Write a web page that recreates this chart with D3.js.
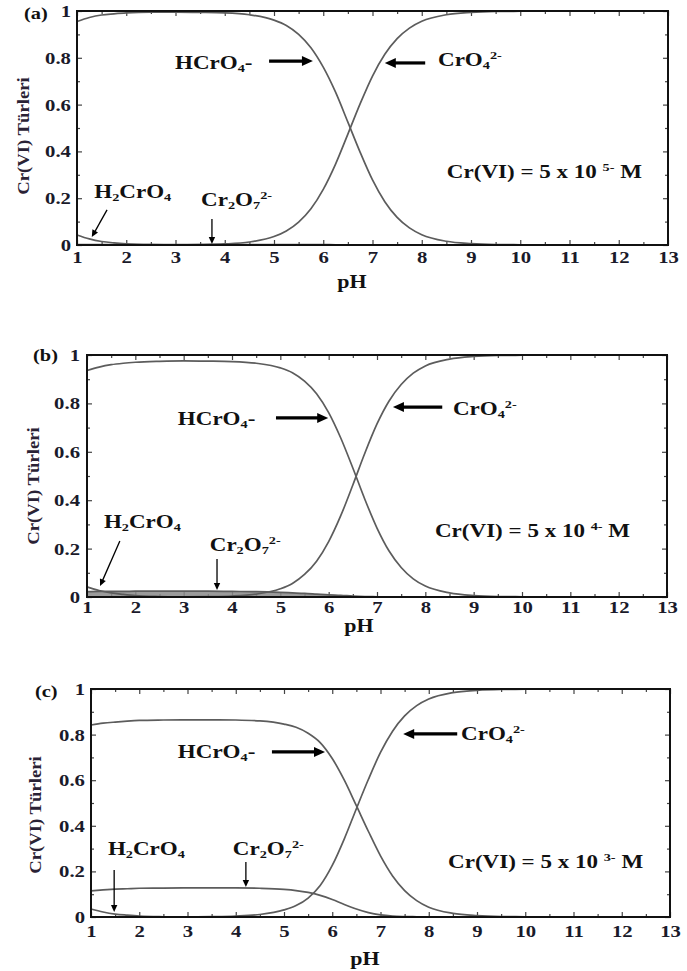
<!DOCTYPE html>
<html><head><meta charset="utf-8">
<script src="https://cdn.jsdelivr.net/npm/d3@7"></script>
<style>body{margin:0;background:#fff}svg text{white-space:pre}</style>
</head><body>
<svg id="c" width="687" height="971"></svg>
<script>
// ---------- DATA ----------
const pH = [1, 1.25, 1.5, 1.75, 2, 2.5, 3, 3.5, 4, 4.5,
            5, 5.25, 5.5, 5.75, 6, 6.25, 6.5, 6.75, 7, 7.25,
            7.5, 7.75, 8, 8.5, 9, 9.5, 10, 11, 12, 13];

// (a) Cr(VI) = 5 x 10^-5 M
const HCrO4_a  = [0.955, 0.972, 0.983, 0.988, 0.992, 0.995, 0.995, 0.994, 0.992, 0.984,
                  0.961, 0.938, 0.900, 0.843, 0.760, 0.653, 0.525, 0.396, 0.278, 0.185,
                  0.118, 0.073, 0.044, 0.016, 0.006, 0.002, 0.001, 0, 0, 0];
const CrO4_a   = [0, 0, 0, 0, 0, 0, 0.0005, 0.0015, 0.0045, 0.0128,
                  0.036, 0.060, 0.098, 0.155, 0.238, 0.346, 0.474, 0.604, 0.722, 0.815,
                  0.882, 0.927, 0.956, 0.984, 0.994, 0.998, 0.999, 1, 1, 1];
const H2CrO4_a = [0.043, 0.026, 0.015, 0.009, 0.005, 0.0015, 0.0005, 0, 0, 0,
                  0, 0, 0, 0, 0, 0, 0, 0, 0, 0,
                  0, 0, 0, 0, 0, 0, 0, 0, 0, 0];
const Cr2O7_a  = [0.002, 0.002, 0.002, 0.002, 0.002, 0.002, 0.002, 0.002, 0.002, 0.002,
                  0.002, 0.002, 0.002, 0.002, 0.002, 0.001, 0.001, 0.0005, 0, 0,
                  0, 0, 0, 0, 0, 0, 0, 0, 0, 0];

// (b) Cr(VI) = 5 x 10^-4 M
const HCrO4_b  = [0.936, 0.950, 0.960, 0.966, 0.970, 0.974, 0.976, 0.975, 0.973, 0.966,
                  0.947, 0.927, 0.892, 0.840, 0.762, 0.657, 0.533, 0.403, 0.285, 0.190,
                  0.122, 0.075, 0.045, 0.017, 0.006, 0.002, 0.001, 0, 0, 0];
const CrO4_b   = [0, 0, 0, 0, 0, 0, 0.0005, 0.0015, 0.004, 0.012,
                  0.034, 0.056, 0.093, 0.148, 0.229, 0.336, 0.463, 0.595, 0.715, 0.810,
                  0.878, 0.925, 0.955, 0.983, 0.994, 0.998, 0.999, 1, 1, 1];
const H2CrO4_b = [0.042, 0.027, 0.017, 0.011, 0.006, 0.002, 0.0005, 0, 0, 0,
                  0, 0, 0, 0, 0, 0, 0, 0, 0, 0,
                  0, 0, 0, 0, 0, 0, 0, 0, 0, 0];
const Cr2O7_b  = [0.022, 0.023, 0.023, 0.023, 0.024, 0.024, 0.024, 0.024, 0.023, 0.022,
                  0.019, 0.017, 0.015, 0.012, 0.009, 0.007, 0.004, 0.002, 0.001, 0,
                  0, 0, 0, 0, 0, 0, 0, 0, 0, 0];

// (c) Cr(VI) = 5 x 10^-3 M
const HCrO4_c  = [0.842, 0.850, 0.855, 0.859, 0.862, 0.864, 0.865, 0.865, 0.864, 0.860,
                  0.846, 0.832, 0.806, 0.765, 0.695, 0.600, 0.488, 0.375, 0.268, 0.180,
                  0.116, 0.072, 0.043, 0.016, 0.006, 0.002, 0.001, 0, 0, 0];
const CrO4_c   = [0, 0, 0, 0, 0, 0, 0.0005, 0.0015, 0.004, 0.011,
                  0.031, 0.050, 0.083, 0.138, 0.226, 0.343, 0.475, 0.604, 0.722, 0.815,
                  0.882, 0.927, 0.956, 0.984, 0.994, 0.998, 0.999, 1, 1, 1];
const H2CrO4_c = [0.035, 0.022, 0.013, 0.008, 0.004, 0.001, 0, 0, 0, 0,
                  0, 0, 0, 0, 0, 0, 0, 0, 0, 0,
                  0, 0, 0, 0, 0, 0, 0, 0, 0, 0];
const Cr2O7_c  = [0.115, 0.119, 0.122, 0.124, 0.126, 0.127, 0.128, 0.128, 0.128, 0.126,
                  0.121, 0.116, 0.108, 0.095, 0.077, 0.055, 0.035, 0.019, 0.009, 0.004,
                  0.002, 0.001, 0, 0, 0, 0, 0, 0, 0, 0];

const panelLabels = ["(a)", "(b)", "(c)"];
const concExponents = ["5-", "4-", "3-"];
const xTicks = [1, 2, 3, 4, 5, 6, 7, 8, 9, 10, 11, 12, 13];
const xMinorTicks = [1.5, 2.5, 3.5, 4.5, 5.5, 6.5, 7.5, 8.5, 9.5, 10.5, 11.5, 12.5];
const yTicks = [0, 0.2, 0.4, 0.6, 0.8, 1];
const yMinorTicks = [0.1, 0.3, 0.5, 0.7, 0.9];
const xTitle = "pH";
const yTitle = "Cr(VI) Türleri";

// ---------- LAYOUT ----------
const FONT = "'Liberation Serif','Times New Roman',serif";
const panels = [
  { series: [HCrO4_a, CrO4_a, H2CrO4_a, Cr2O7_a], band: false,
    box: {x0: 77, x1: 668, y0: 11, y1: 245}, xPad: 6, yPad: 6,
    lab: [24, 19], ytitle: [23, 136], xtitle: [352, 288],
    ann: { HCrO4: {t: [2.99, 0.752], a: [4.90, 0.786, 5.79, 0.786]},
           CrO4:  {t: [8.33, 0.765], a: [8.07, 0.778, 7.25, 0.778]},
           conc:  {t: [8.51, 0.286]},
           H2:    {t: [1.35, 0.201], a: [1.61, 0.150, 1.30, 0.034]},
           Cr2:   {t: [3.52, 0.167], a: [3.74, 0.111, 3.74, 0.004]} } },
  { series: [HCrO4_b, CrO4_b, H2CrO4_b, Cr2O7_b], band: true,
    box: {x0: 87, x1: 667, y0: 355, y1: 597}, xPad: 4, yPad: 7,
    lab: [33, 361], ytitle: [33, 486], xtitle: [359, 632],
    ann: { HCrO4: {t: [2.88, 0.711], a: [4.91, 0.740, 5.99, 0.740]},
           CrO4:  {t: [8.57, 0.752], a: [8.35, 0.785, 7.33, 0.785]},
           conc:  {t: [8.20, 0.248]},
           H2:    {t: [1.35, 0.285], a: [1.68, 0.231, 1.27, 0.045]},
           Cr2:   {t: [3.54, 0.190], a: [3.69, 0.157, 3.69, 0.029]} } },
  { series: [HCrO4_c, CrO4_c, H2CrO4_c, Cr2O7_c], band: false,
    box: {x0: 91, x1: 670, y0: 689, y1: 917}, xPad: 8, yPad: 6,
    lab: [35, 697], ytitle: [35, 815], xtitle: [365, 965],
    ann: { HCrO4: {t: [2.80, 0.697], a: [4.75, 0.724, 5.85, 0.724]},
           CrO4:  {t: [8.67, 0.776], a: [8.59, 0.803, 7.47, 0.803]},
           conc:  {t: [8.40, 0.215]},
           H2:    {t: [1.35, 0.272], a: [1.48, 0.206, 1.48, 0.022]},
           Cr2:   {t: [3.94, 0.272], a: [4.21, 0.241, 4.21, 0.132]} } }
];

const svg = d3.select("#c");
svg.append("rect").attr("width", 687).attr("height", 971).attr("fill", "#fff");

function richText(parent, x, y, parts, size, sx) {
  const g = parent.append("g").attr("transform", `translate(${x},${y}) scale(${sx},1)`);
  const t = g.append("text").attr("font-family", FONT).attr("font-weight", "bold")
    .attr("font-size", size).attr("fill", "#111");
  let shift = 0;
  parts.forEach(p => {
    const target = p.sub ? size * 0.16 : p.sup ? -size * 0.4 : 0;
    const ts = t.append("tspan").text(p.t).attr("dy", target - shift);
    if (p.sub || p.sup) ts.attr("font-size", size * 0.62);
    shift = target;
  });
  return g;
}

function arrow(g, x1, y1, x2, y2, heavy) {
  const w = heavy ? 3.2 : 1.3, hl = heavy ? 11 : 7, hw = heavy ? 5 : 3.2;
  const dx = x2 - x1, dy = y2 - y1, L = Math.hypot(dx, dy), ux = dx / L, uy = dy / L;
  const bx = x2 - ux * hl, by = y2 - uy * hl;
  g.append("line").attr("x1", x1).attr("y1", y1).attr("x2", bx + ux).attr("y2", by + uy)
    .attr("stroke", "#000").attr("stroke-width", w);
  g.append("path").attr("d", `M${x2},${y2}L${bx - uy * hw},${by + ux * hw}L${bx + uy * hw},${by - ux * hw}Z`)
    .attr("fill", "#000");
}

const labelSets = {
  HCrO4: [{t: "HCrO"}, {t: "4", sub: 1}, {t: "-"}],
  CrO4:  [{t: "CrO"}, {t: "4", sub: 1}, {t: "2-", sup: 1}],
  H2:    [{t: "H"}, {t: "2", sub: 1}, {t: "CrO"}, {t: "4", sub: 1}],
  Cr2:   [{t: "Cr"}, {t: "2", sub: 1}, {t: "O"}, {t: "7", sub: 1}, {t: "2-", sup: 1}]
};

panels.forEach((P, i) => {
  const {x0, x1, y0, y1} = P.box;
  const x = d3.scaleLinear().domain([1, 13]).range([x0, x1]);
  const y = d3.scaleLinear().domain([0, 1]).range([y1, y0]);
  const g = svg.append("g");

  const styleTicks = sel => {
    sel.select(".domain").remove();
    sel.selectAll(".tick line").attr("stroke", "#444").attr("stroke-width", 1.2);
  };
  const styleText = (sel, sx) => sel.selectAll(".tick text")
    .attr("font-family", FONT).attr("font-weight", "bold").attr("font-size", 17)
    .attr("fill", "#1a1a2a").attr("transform", `scale(${sx},1)`);

  // bottom
  const gb = g.append("g").attr("transform", `translate(0,${y1})`)
    .call(d3.axisBottom(x).tickValues(xTicks).tickSizeInner(-5).tickSizeOuter(0)
      .tickPadding(P.xPad).tickFormat(d3.format("d")));
  styleTicks(gb); styleText(gb, 1.22);
  gb.selectAll(".tick text").attr("x", 0);
  const gbm = g.append("g").attr("transform", `translate(0,${y1})`)
    .call(d3.axisBottom(x).tickValues(xMinorTicks).tickSize(-3).tickFormat(""));
  styleTicks(gbm);
  // top
  const gt = g.append("g").attr("transform", `translate(0,${y0})`)
    .call(d3.axisTop(x).tickValues(xTicks).tickSize(-5).tickFormat(""));
  styleTicks(gt);
  const gtm = g.append("g").attr("transform", `translate(0,${y0})`)
    .call(d3.axisTop(x).tickValues(xMinorTicks).tickSize(-3).tickFormat(""));
  styleTicks(gtm);
  // left
  const gl = g.append("g").attr("transform", `translate(${x0},0)`)
    .call(d3.axisLeft(y).tickValues(yTicks).tickSizeInner(-5).tickSizeOuter(0)
      .tickPadding(P.yPad / 1.22).tickFormat(d3.format("~g")));
  styleTicks(gl); styleText(gl, 1.22);
  const glm = g.append("g").attr("transform", `translate(${x0},0)`)
    .call(d3.axisLeft(y).tickValues(yMinorTicks).tickSize(-3).tickFormat(""));
  styleTicks(glm);
  // right
  const gr = g.append("g").attr("transform", `translate(${x1},0)`)
    .call(d3.axisRight(y).tickValues(yTicks).tickSize(-5).tickFormat(""));
  styleTicks(gr);
  const grm = g.append("g").attr("transform", `translate(${x1},0)`)
    .call(d3.axisRight(y).tickValues(yMinorTicks).tickSize(-3).tickFormat(""));
  styleTicks(grm);

  // curves
  const line = d3.line().x((d, k) => x(pH[k])).y(d => y(d)).curve(d3.curveMonotoneX);
  if (P.band) {
    const area = d3.area().x((d, k) => x(pH[k])).y0(y(0)).y1(d => y(d)).curve(d3.curveMonotoneX);
    g.append("path").attr("d", area(P.series[3])).attr("fill", "#8a8a8a").attr("opacity", 0.85);
  }
  P.series.forEach(s => {
    g.append("path").attr("d", line(s)).attr("fill", "none")
      .attr("stroke", "#5c5c5c").attr("stroke-width", 1.7);
  });

  // frame
  g.append("rect").attr("x", x0).attr("y", y0).attr("width", x1 - x0).attr("height", y1 - y0)
    .attr("fill", "none").attr("stroke", "#111").attr("stroke-width", 2);

  // annotations
  const A = P.ann;
  ["HCrO4", "CrO4", "H2", "Cr2"].forEach(k => {
    const a = A[k];
    richText(g, x(a.t[0]), y(a.t[1]), labelSets[k], 18, 1.28);
    arrow(g, x(a.a[0]), y(a.a[1]), x(a.a[2]), y(a.a[3]), k === "HCrO4" || k === "CrO4");
  });
  richText(g, x(A.conc.t[0]), y(A.conc.t[1]),
    [{t: "Cr(VI) = 5 x 10 "}, {t: concExponents[i], sup: 1}, {t: " M"}], 18, 1.28);

  // panel label
  richText(g, P.lab[0], P.lab[1], [{t: panelLabels[i]}], 17, 1.2);
  // axis titles
  g.append("g").attr("transform", `translate(${P.xtitle[0]},${P.xtitle[1]}) scale(1.22,1)`)
    .append("text").attr("text-anchor", "middle").attr("font-family", FONT).attr("font-weight", "bold")
    .attr("font-size", 18).attr("fill", "#111").text(xTitle);
  g.append("g").attr("transform", `translate(${P.ytitle[0] + 6},${P.ytitle[1]}) rotate(-90) scale(1.1,1)`)
    .append("text").attr("text-anchor", "middle").attr("font-family", FONT).attr("font-weight", "bold")
    .attr("font-size", 17).attr("fill", "#2a2235").text(yTitle);
});
</script>
</body></html>
